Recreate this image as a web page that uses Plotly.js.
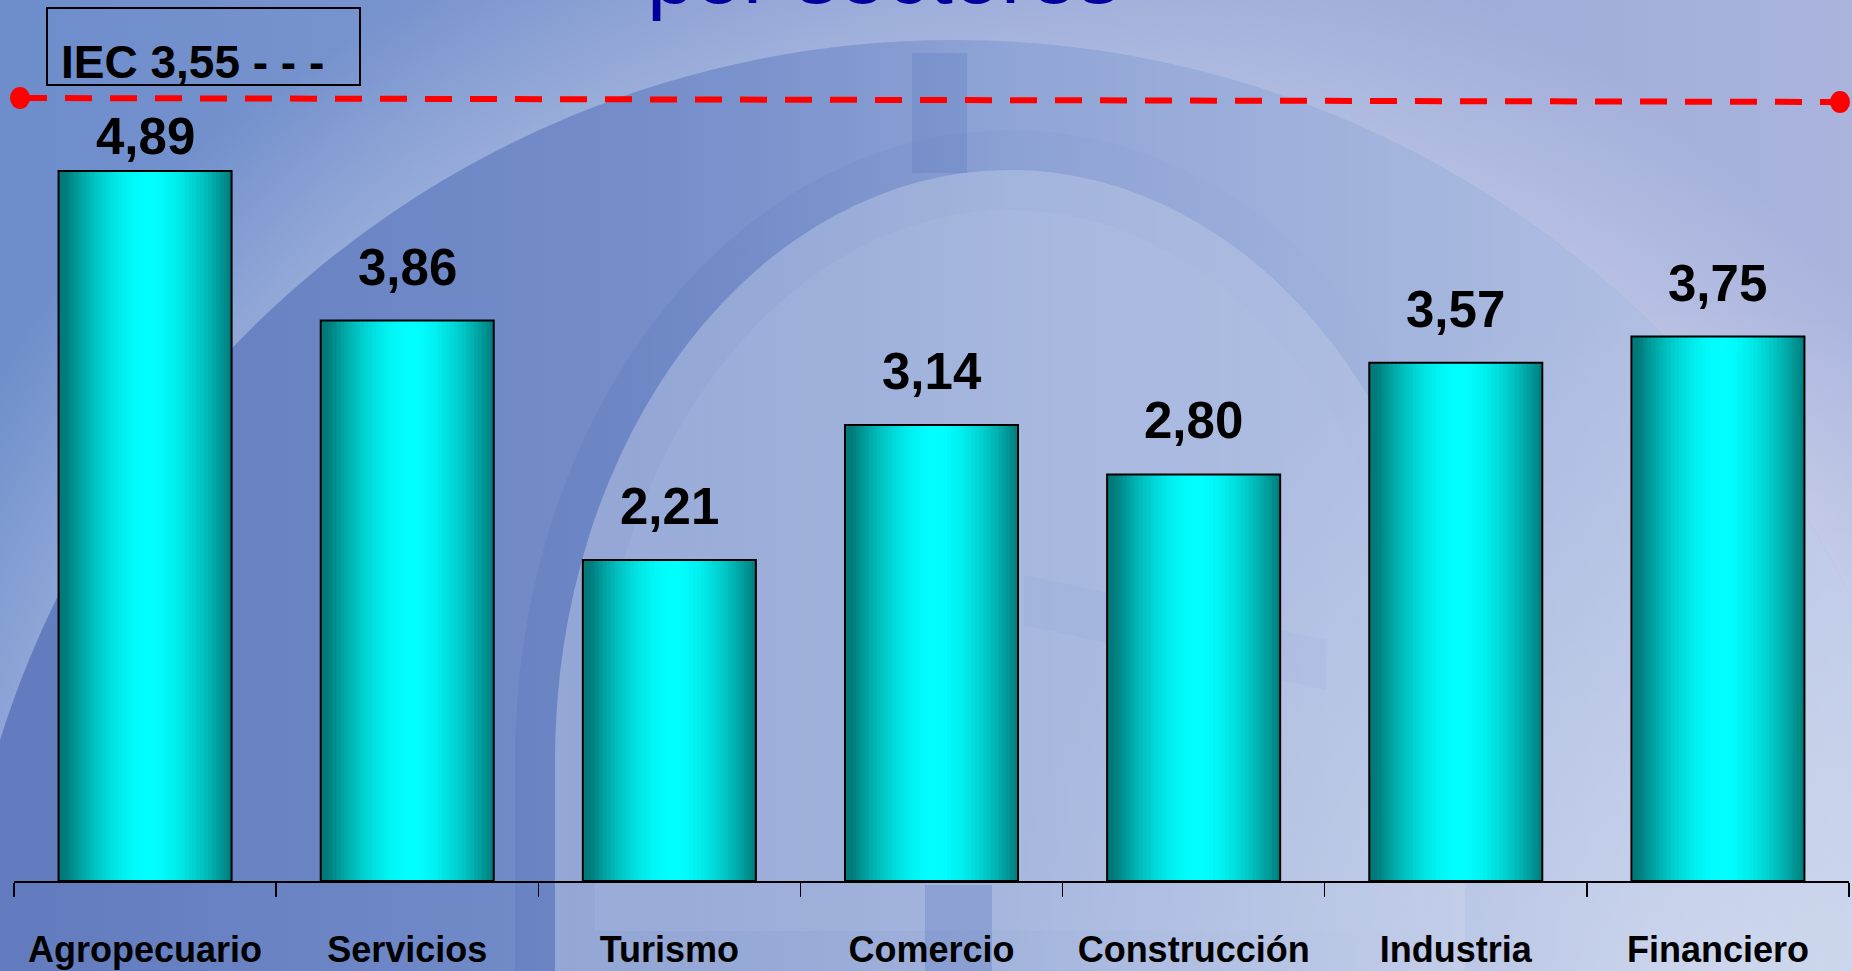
<!DOCTYPE html>
<html>
<head>
<meta charset="utf-8">
<script src="https://cdn.plot.ly/plotly-3.0.1.min.js"></script>
<style>
html, body { margin:0; padding:0; width:1852px; height:971px; overflow:hidden; background:#7f97d0; }
#bg { position:absolute; left:0; top:0; }
#chart { position:absolute; left:0; top:0; width:1852px; height:971px; }
</style>
</head>
<body>
<svg id="bg" width="1852" height="971" viewBox="0 0 1852 971" xmlns="http://www.w3.org/2000/svg">
  <defs>
    <linearGradient id="base" x1="0" y1="0" x2="1852" y2="0" gradientUnits="userSpaceOnUse">
      <stop offset="0" stop-color="#6d8dcb"/>
      <stop offset="0.4" stop-color="#8299d0"/>
      <stop offset="0.7" stop-color="#9aa8d8"/>
      <stop offset="1" stop-color="#aab4dd"/>
    </linearGradient>
    <radialGradient id="halo" cx="954" cy="1040" r="1170" gradientUnits="userSpaceOnUse">
      <stop offset="0.85" stop-color="#ffffff" stop-opacity="0.22"/>
      <stop offset="1" stop-color="#ffffff" stop-opacity="0"/>
    </radialGradient>
    <linearGradient id="disk" x1="0" y1="0" x2="1852" y2="0" gradientUnits="userSpaceOnUse">
      <stop offset="0" stop-color="#1c3a94" stop-opacity="0.30"/>
      <stop offset="0.35" stop-color="#1c3a94" stop-opacity="0.10"/>
      <stop offset="0.55" stop-color="#ffffff" stop-opacity="0.14"/>
      <stop offset="1" stop-color="#ffffff" stop-opacity="0.45"/>
    </linearGradient>
    <linearGradient id="arch" x1="0" y1="0" x2="1852" y2="0" gradientUnits="userSpaceOnUse">
      <stop offset="0.25" stop-color="#ffffff" stop-opacity="0.30"/>
      <stop offset="0.8" stop-color="#ffffff" stop-opacity="0.12"/>
    </linearGradient>
    <linearGradient id="archEdge" x1="0" y1="0" x2="1852" y2="0" gradientUnits="userSpaceOnUse">
      <stop offset="0.25" stop-color="#2a4aa0" stop-opacity="0.12"/>
      <stop offset="0.6" stop-color="#2a4aa0" stop-opacity="0.03"/>
      <stop offset="0.8" stop-color="#2a4aa0" stop-opacity="0"/>
    </linearGradient>
    <radialGradient id="glow" cx="1700" cy="1000" r="700" gradientUnits="userSpaceOnUse">
      <stop offset="0" stop-color="#ffffff" stop-opacity="0.35"/>
      <stop offset="1" stop-color="#ffffff" stop-opacity="0"/>
    </radialGradient>
  </defs>
  <rect width="1852" height="971" fill="url(#base)"/>
  <circle cx="954" cy="1040" r="1170" fill="url(#halo)"/>
  <circle cx="954" cy="1040" r="1000" fill="#7f97d0"/>
  <circle cx="954" cy="1040" r="1000" fill="url(#disk)"/>
  <path d="M555,971 L555,760 A455,590 0 0 1 1465,760 L1465,971 Z" fill="none" stroke="url(#archEdge)" stroke-width="80"/>
  <path d="M555,971 L555,760 A455,590 0 0 1 1465,760 L1465,971 Z" fill="url(#arch)"/>
  <rect x="912" y="53" width="55" height="120" fill="#3a5cb0" fill-opacity="0.16"/>
  <rect x="925" y="885" width="67" height="86" fill="#3a5cb0" fill-opacity="0.22"/>
  <path d="M1024,575 L1326,640 L1326,690 L1024,625 Z" fill="#3a5cb0" fill-opacity="0.045"/>
  <rect width="1852" height="971" fill="url(#glow)"/>
</svg>
<div id="chart"></div>
<script>
// ---- data ----
const categories = ['Agropecuario', 'Servicios', 'Turismo', 'Comercio', 'Construcción', 'Industria', 'Financiero'];
const values = [4.89, 3.86, 2.21, 3.14, 2.80, 3.57, 3.75];
const iecValue = 3.55;
const iecText = 'IEC ' + iecValue.toFixed(2).replace('.', ',') + ' - - -';
const titleText = 'por sectores';

// ---- helpers ----
const W = 1852, H = 971;
const M = {l: 14, r: 3, t: 0, b: 90};
const plotW = W - M.l - M.r, plotH = H - M.t - M.b;
const pxPerUnit = 145.2;
const px = v => (v - M.l) / plotW;          // pixel x -> paper
const py = v => (H - M.b - v) / plotH;      // pixel y -> paper
const fmt = v => v.toFixed(2).replace('.', ',');
const FONT = 'Liberation Sans, Arial, Helvetica, sans-serif';
const LINE_Y = 100;                          // pixel y of the dashed reference line

// ---- gradient bars as strips ----
const N = 44, barW = 0.66;
const teal = [0, 122, 122], cyan = [0, 255, 255];
function shade(t) {
  const d = Math.min(1, Math.abs(t - 0.52) / 0.48);
  const f = 1 - Math.pow(d, 1.8);
  const c = teal.map((a, k) => Math.round(a + (cyan[k] - a) * f));
  return 'rgb(' + c.join(',') + ')';
}
const traces = [];
for (let i = 0; i < N; i++) {
  const off = -barW / 2 + i * barW / N;
  const w = Math.min(barW / N * 1.25, barW / 2 - off);
  traces.push({
    type: 'bar', x: categories, y: values,
    width: w, offset: off,
    marker: {color: shade((i + 0.5) / N), line: {width: 0}},
    hoverinfo: 'skip', showlegend: false
  });
}
traces.push({
  type: 'bar', x: categories, y: values, width: barW,
  marker: {color: 'rgba(0,0,0,0)', line: {color: '#000', width: 2}},
  hoverinfo: 'x+y', showlegend: false
});

// value labels: raised above bars, but kept below the dashed line
const annotations = categories.map((c, i) => {
  const barTop = H - M.b - values[i] * pxPerUnit;
  const shift = Math.max(4, Math.min(23, barTop - (LINE_Y + 7) - 60));
  return {
    x: c, y: values[i], text: fmt(values[i]), showarrow: false,
    yanchor: 'bottom', yshift: shift,
    font: {family: FONT, size: 51, color: '#000', weight: 'bold'}
  };
});
annotations.push({
  xref: 'paper', yref: 'paper', x: px(59), y: py(79), xanchor: 'left', yanchor: 'bottom',
  yshift: -11, text: iecText, showarrow: false,
  font: {family: FONT, size: 46, color: '#000', weight: 'bold'}
});
annotations.push({
  xref: 'paper', yref: 'paper', x: px(883), y: 1, xanchor: 'center', yanchor: 'bottom',
  yshift: -23, text: titleText, showarrow: false,
  font: {family: FONT, size: 86, color: '#00009c'}
});

const shapes = [
  {type: 'rect', xref: 'paper', yref: 'paper', x0: px(47), x1: px(360), y0: py(85), y1: py(8),
   line: {color: '#000', width: 2}, fillcolor: 'rgba(0,0,0,0)'},
  {type: 'line', xref: 'paper', yref: 'paper', x0: px(20), y0: py(98), x1: px(1840), y1: py(102),
   line: {color: '#ff0000', width: 6, dash: '27px,18px'}},
  {type: 'circle', xref: 'paper', yref: 'paper', xsizemode: 'pixel', ysizemode: 'pixel',
   xanchor: px(20), yanchor: py(98), x0: -10, x1: 10, y0: -11, y1: 11,
   fillcolor: '#ff0000', line: {width: 0}},
  {type: 'circle', xref: 'paper', yref: 'paper', xsizemode: 'pixel', ysizemode: 'pixel',
   xanchor: px(1840), yanchor: py(102), x0: -10, x1: 10, y0: -11, y1: 11,
   fillcolor: '#ff0000', line: {width: 0}}
];

const layout = {
  width: W, height: H, margin: M,
  paper_bgcolor: 'rgba(0,0,0,0)', plot_bgcolor: 'rgba(0,0,0,0)',
  barmode: 'overlay', showlegend: false,
  xaxis: {
    type: 'category', range: [-0.5, categories.length - 0.5], fixedrange: true,
    showline: true, linecolor: '#000', linewidth: 1.5,
    ticks: 'outside', ticklen: 14, tickwidth: 1.3, tickcolor: '#000', tickson: 'boundaries',
    showgrid: false, zeroline: false, ticklabelstandoff: 36,
    tickfont: {family: FONT, size: 36, color: '#000', weight: 'bold'}
  },
  yaxis: {visible: false, range: [0, plotH / pxPerUnit], fixedrange: true},
  annotations: annotations,
  shapes: shapes
};

Plotly.newPlot('chart', traces, layout, {displayModeBar: false, staticPlot: true});
</script>
</body>
</html>
